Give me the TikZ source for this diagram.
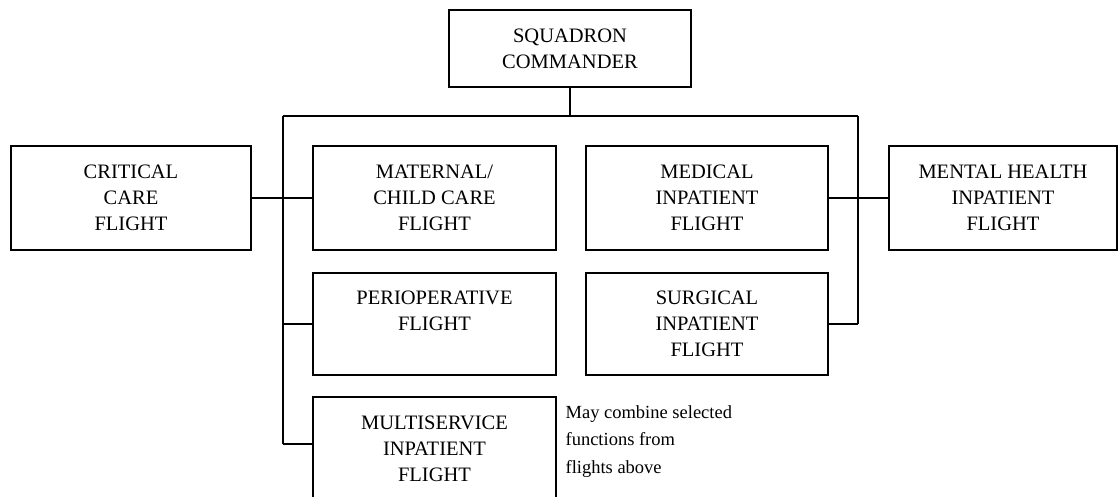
\documentclass[tikz,border=0pt]{standalone}
\usepackage{fontspec}
\setmainfont{Liberation Serif}
\usetikzlibrary{calc}

\begin{document}
\begin{tikzpicture}[x=1pt, y=-1pt, line width=1.2pt,
    flightbox/.style={draw, rectangle, align=center, inner sep=0pt,
        minimum width=242pt, minimum height=104pt,
        font=\fontsize{20.5}{26}\selectfont},
    notetext/.style={align=left, inner sep=0pt,
        font=\fontsize{18.5}{27.5}\selectfont}]
    % Page frame (picture in pixels, y grows downwards)
    \useasboundingbox (0,0) rectangle (1119,497);

    % Commander on top
    \node[flightbox, minimum height=77pt] (cmdr) at (570, 48.5) {SQUADRON\\COMMANDER};

    % Flights, left and middle columns
    \node[flightbox, minimum width=240pt] (crit) at (131, 198) {CRITICAL\\CARE\\FLIGHT};
    \node[flightbox, minimum width=243pt] (mat) at (434.5, 198) {MATERNAL/\\CHILD CARE\\FLIGHT};
    \node[flightbox, minimum width=243pt, minimum height=102pt] (periop) at (434.5, 324) {PERIOPERATIVE\\FLIGHT\\\mbox{}};
    \node[flightbox, minimum width=243pt] (multi) at (434.5, 449) {MULTISERVICE\\INPATIENT\\FLIGHT};

    % Flights, right columns
    \node[flightbox] (med) at (707, 198) {MEDICAL\\INPATIENT\\FLIGHT};
    \node[flightbox, minimum height=102pt] (surg) at (707, 324) {SURGICAL\\INPATIENT\\FLIGHT};
    \node[flightbox, minimum width=228pt] (mh) at (1003, 198) {MENTAL HEALTH\\INPATIENT\\FLIGHT};

    % Note beside the multiservice flight
    \node[notetext, anchor=north west] (note) at (565, 405) {May combine selected\\functions from\\flights above};

    % Bus lines
    \coordinate (busL) at (283, 116);
    \coordinate (busR) at (858, 116);
    \coordinate (busM) at (cmdr.south |- busL);
    \draw (cmdr.south) -- (busM);
    \draw (busL) -- (busR);
    \draw (busL) -- (busL |- 0, 444);
    \draw (busR) -- (busR |- surg.east);

    % Branches to each flight
    \draw (crit.east) -- (mat.west);
    \draw (med.east) -- (mh.west);
    \draw (busL |- periop.west) -- (periop.west);
    \draw (busL |- 0, 444) -- ([yshift=5pt]multi.west);
    \draw (surg.east) -- (busR |- surg.east);
\end{tikzpicture}
\end{document}
